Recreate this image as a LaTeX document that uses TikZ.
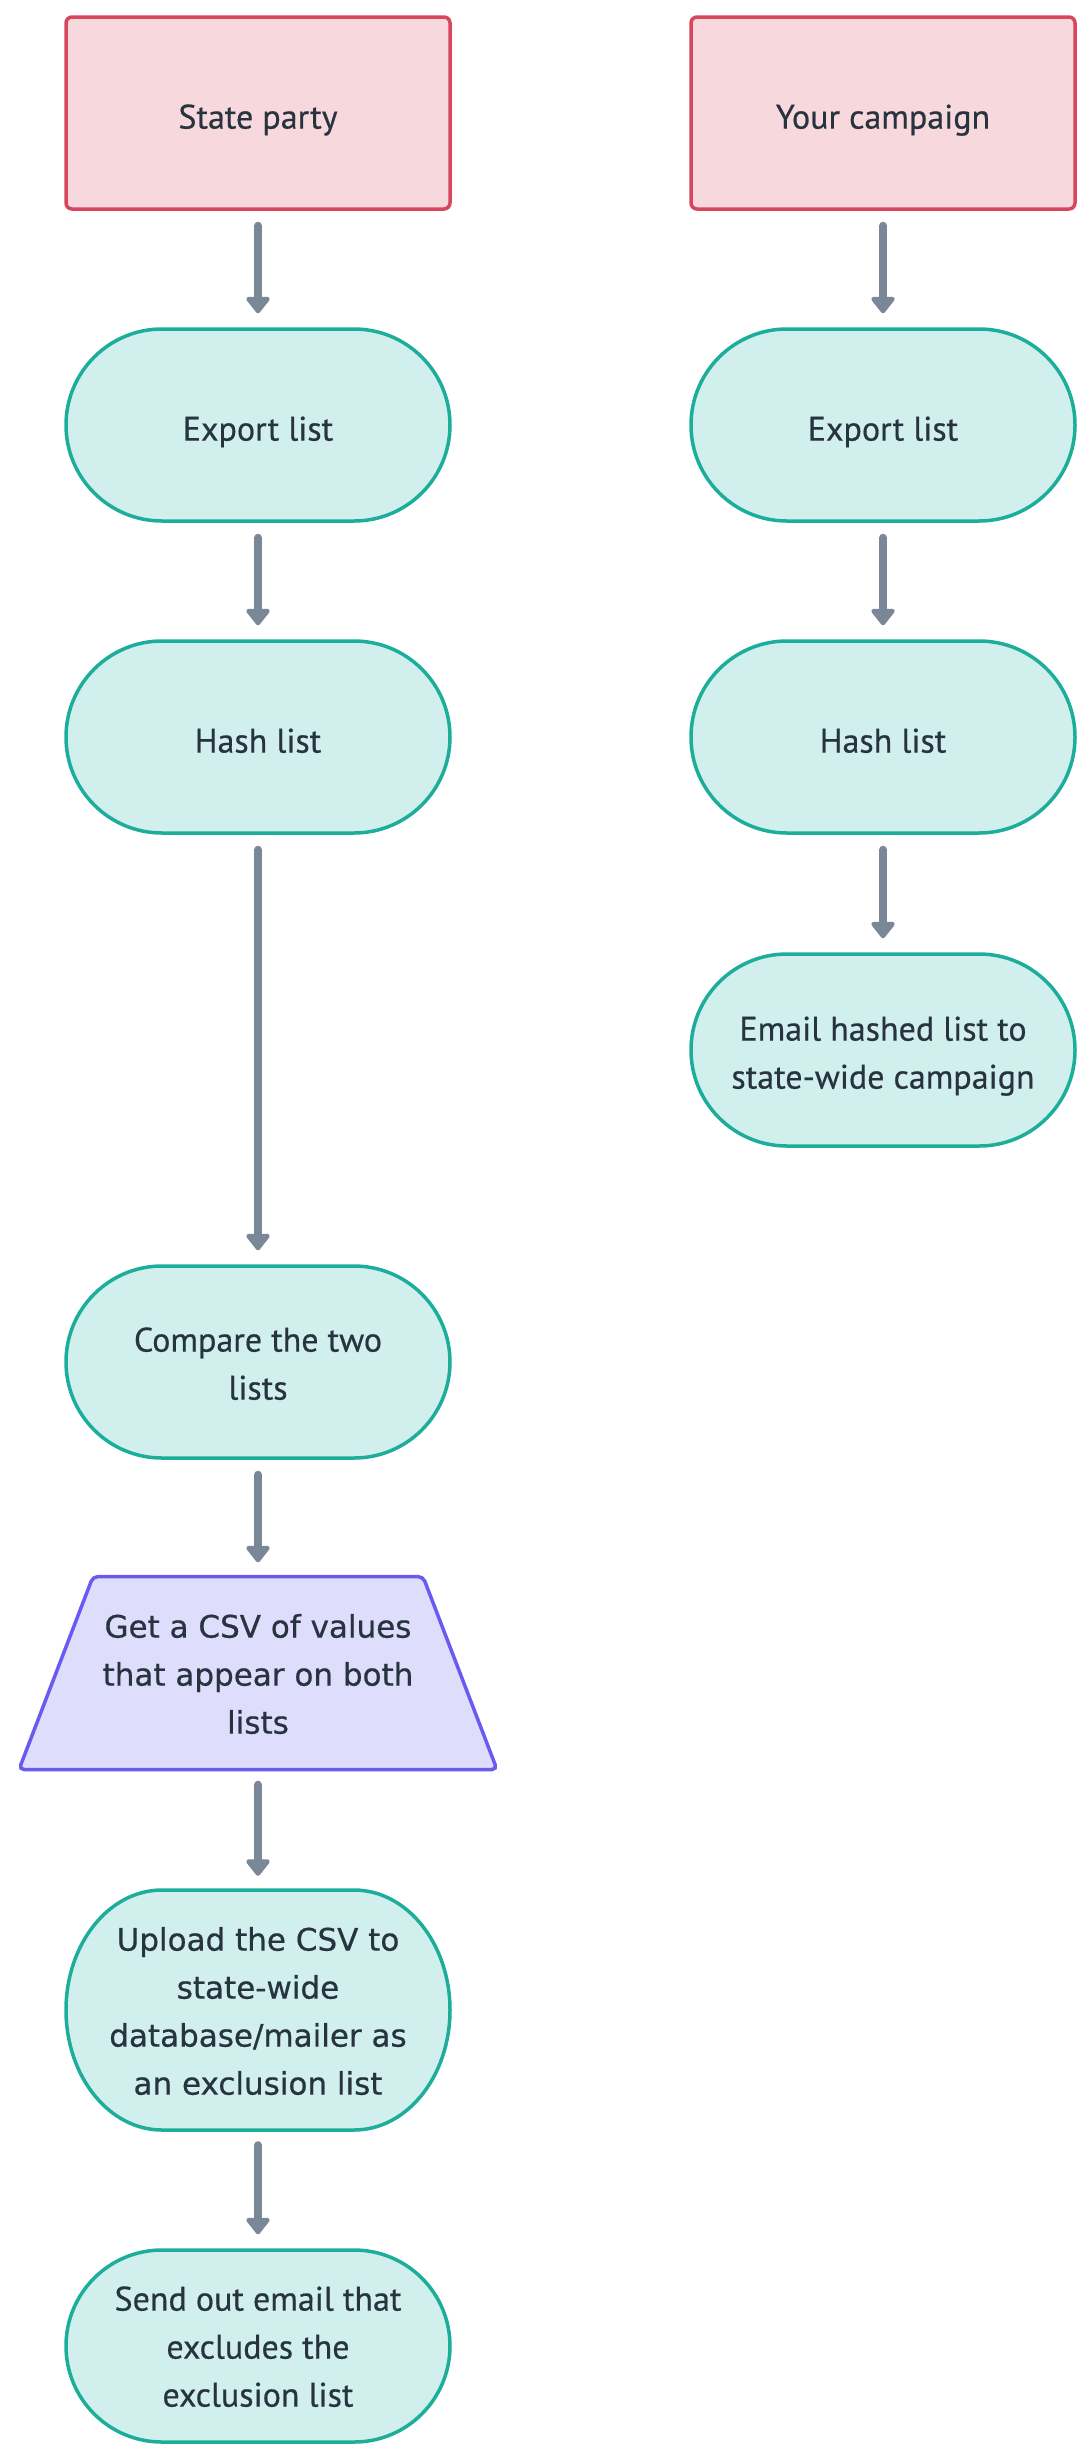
\documentclass[tikz,border=0pt]{standalone}
\usepackage{fontspec}
\setmainfont[FakeBold=0.5]{PT Sans}
\newfontfamily\widefont[FakeBold=0.6]{DejaVu Sans}
\usetikzlibrary{shapes.misc,arrows.meta}
\definecolor{pinkfill}{HTML}{F7D9DD}
\definecolor{pinkline}{HTML}{D6475D}
\definecolor{tealfill}{HTML}{D1EFEC}
\definecolor{tealline}{HTML}{1DAE9B}
\definecolor{purpfill}{HTML}{DEDEFC}
\definecolor{purpline}{HTML}{6A5BF0}
\definecolor{arrowgrey}{HTML}{7A8796}
\definecolor{txt}{HTML}{283340}
\newcommand\lowtext[2][4pt]{\raisebox{-#1}[\height][\depth]{\begin{tabular}{@{}c@{}}#2\end{tabular}}}
\tikzset{
  base/.style={minimum width=384pt, minimum height=192pt, align=center, line width=3.5pt, inner sep=0pt, text=txt},
  actor/.style={base, rectangle, rounded corners=6pt, draw=pinkline, fill=pinkfill},
  proc/.style={base, rounded rectangle, draw=tealline, fill=tealfill},
  procpath/.style={line width=3.5pt, draw=tealline, fill=tealfill},
  iobox/.style={line width=3.5pt, rounded corners=5pt, draw=purpline, fill=purpfill},
  lbl/.style={align=center, inner sep=0pt, text=txt},
  wide/.style={font=\widefont\fontsize{31}{48}\selectfont},
  flow/.style={line width=8pt, draw=arrowgrey, line cap=round,
    -{Triangle[width=27pt,length=18pt,round]}, shorten <=15pt, shorten >=14pt}
}
\begin{document}
\begin{tikzpicture}[x=1pt,y=-1pt, font=\fontsize{34}{48}\selectfont]
\useasboundingbox (0,0) rectangle (1092,2460);
% left column
\node[actor] (sp) at (258,113) {\lowtext[6pt]{State party}};
\node[proc] (ex1) at (258,425) {\lowtext[6pt]{Export list}};
\node[proc] (h1) at (258,737) {\lowtext[6pt]{Hash list}};
\node[proc] (cmp) at (258,1362) {\lowtext{Compare the two\\lists}};
\coordinate (csvc) at (258,1673);
\draw[iobox] ([shift={(-165,-96.5)}]csvc) -- ([shift={(165,-96.5)}]csvc)
  -- ([shift={(239,96.5)}]csvc) -- ([shift={(-239,96.5)}]csvc) -- cycle;
\node[lbl, wide, minimum height=193pt] (csv) at (csvc) {\lowtext[3pt]{Get a CSV of values\\that appear on both\\lists}};
\coordinate (upc) at (258,2010);
\draw[procpath] ([shift={(-96,-120)}]upc) -- ([shift={(96,-120)}]upc)
  arc[start angle=-90, end angle=90, x radius=96, y radius=120]
  -- ([shift={(-96,120)}]upc)
  arc[start angle=90, end angle=270, x radius=96, y radius=120] -- cycle;
\node[lbl, wide, minimum height=240pt] (up) at (upc) {\lowtext[3pt]{Upload the CSV to\\state-wide\\database/mailer as\\an exclusion list}};
\node[proc] (send) at (258,2346) {\lowtext[3pt]{Send out email that\\excludes the\\exclusion list}};
% right column
\node[actor] (yc) at (883,113) {\lowtext[6pt]{Your campaign}};
\node[proc] (ex2) at (883,425) {\lowtext[6pt]{Export list}};
\node[proc] (h2) at (883,737) {\lowtext[6pt]{Hash list}};
\node[proc] (em) at (883,1050) {\lowtext[5pt]{Email hashed list to\\state-wide campaign}};
% connectors
\draw[flow] (sp.south) -- (ex1.north);
\draw[flow] (ex1.south) -- (h1.north);
\draw[flow] (h1.south) -- (cmp.north);
\draw[flow] (cmp.south) -- (csv.north);
\draw[flow] (csv.south) -- (up.north);
\draw[flow] (up.south) -- (send.north);
\draw[flow] (yc.south) -- (ex2.north);
\draw[flow] (ex2.south) -- (h2.north);
\draw[flow] (h2.south) -- (em.north);
\end{tikzpicture}
\end{document}
